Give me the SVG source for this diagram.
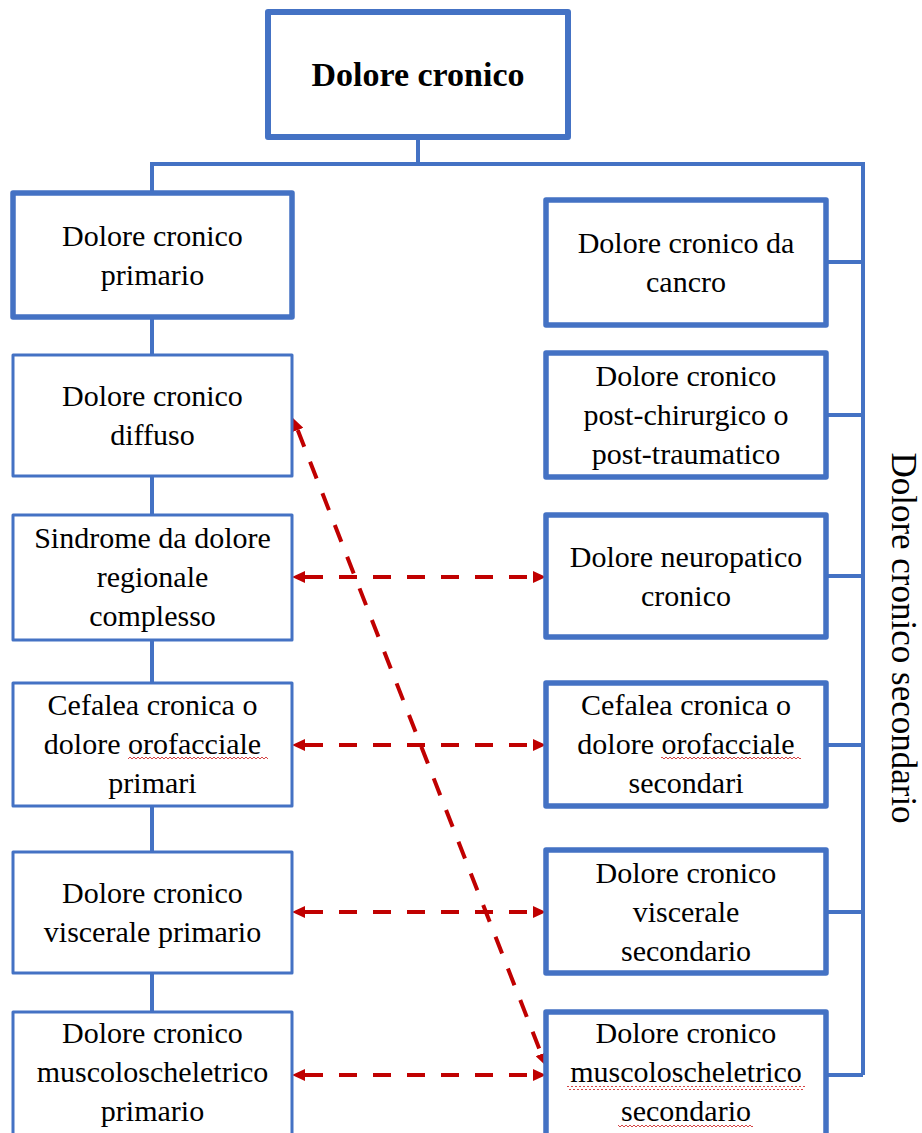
<svg xmlns="http://www.w3.org/2000/svg" width="922" height="1133" viewBox="0 0 922 1133">
<style>
.bg{fill:#ffffff}
.box{fill:#ffffff;stroke:#4472C4;stroke-linejoin:round}
.thick{stroke-width:5.5}
.thin{stroke-width:3}
.conn{fill:none;stroke:#4472C4;stroke-width:4}
.arr{fill:none;stroke:#C00000;stroke-width:4;stroke-dasharray:18 16}
.t{font-family:"Liberation Serif","Times New Roman",serif;font-size:30px;fill:#000;text-anchor:middle}
.title{font-family:"Liberation Serif","Times New Roman",serif;font-size:34px;font-weight:bold;fill:#000;text-anchor:middle}
.side{font-family:"Liberation Serif","Times New Roman",serif;font-size:35px;fill:#000;text-anchor:middle}
.wavy{fill:url(#wave)}
</style>
<defs>
<marker id="ah" markerUnits="userSpaceOnUse" markerWidth="14" markerHeight="12" refX="0" refY="6" orient="auto-start-reverse" viewBox="0 0 14 12">
<path d="M0 0 L13 6 L0 12 Z" fill="#C00000"/>
</marker>
<pattern id="wave" patternUnits="userSpaceOnUse" width="4" height="4" x="0" y="0">
<path d="M0 3 L2 1 L4 3" fill="none" stroke="#D03030" stroke-width="0.9"/>
</pattern>
</defs>
<rect class="bg" x="0" y="0" width="922" height="1133"/>

<g id="connectors">
<path class="conn" d="M418 137 V164 M150 164 H863 V1075 M152 164 V1012"/>
<path class="conn" d="M826 262 H863 M826 415 H863 M826 576 H863 M826 745 H863 M826 912 H863 M826 1075 H863"/>
<line class="arr" x1="305" y1="577" x2="533" y2="577" marker-start="url(#ah)" marker-end="url(#ah)"/>
<line class="arr" x1="305" y1="745" x2="533" y2="745" marker-start="url(#ah)" marker-end="url(#ah)"/>
<line class="arr" x1="305" y1="912" x2="533" y2="912" marker-start="url(#ah)" marker-end="url(#ah)"/>
<line class="arr" x1="305" y1="1075" x2="533" y2="1075" marker-start="url(#ah)" marker-end="url(#ah)"/>
<line class="arr" x1="297.7" y1="430" x2="541.3" y2="1054" marker-start="url(#ah)" marker-end="url(#ah)"/>
</g>

<g id="root">
<rect class="box" x="268" y="12" width="300" height="125" stroke-width="6"/>
<text class="title" x="418" y="86">Dolore cronico</text>
</g>

<g id="primario">
<rect class="box thick" x="13" y="193" width="279" height="124"/>
<text class="t" x="152.5" y="246">Dolore cronico</text>
<text class="t" x="152.5" y="285">primario</text>
</g>

<g id="diffuso">
<rect class="box thin" x="13" y="355" width="279" height="121"/>
<text class="t" x="152.5" y="406">Dolore cronico</text>
<text class="t" x="152.5" y="445">diffuso</text>
</g>

<g id="sindrome">
<rect class="box thin" x="13" y="515" width="279" height="125"/>
<text class="t" x="152.5" y="548">Sindrome da dolore</text>
<text class="t" x="152.5" y="587">regionale</text>
<text class="t" x="152.5" y="626">complesso</text>
</g>

<g id="cefalea-primari">
<rect class="box thin" x="13" y="683" width="279" height="123"/>
<text class="t" x="152.5" y="715">Cefalea cronica o</text>
<text class="t" x="152.5" y="754">dolore orofacciale</text>
<text class="t" x="152.5" y="793">primari</text>
<rect class="wavy" x="128" y="757" width="140" height="4"/>
</g>

<g id="viscerale-primario">
<rect class="box thin" x="13" y="852" width="279" height="121"/>
<text class="t" x="152.5" y="903">Dolore cronico</text>
<text class="t" x="152.5" y="942">viscerale primario</text>
</g>

<g id="muscolo-primario">
<rect class="box thin" x="13" y="1012" width="279" height="130"/>
<text class="t" x="152.5" y="1043">Dolore cronico</text>
<text class="t" x="152.5" y="1082">muscoloscheletrico</text>
<text class="t" x="152.5" y="1121">primario</text>
</g>

<g id="cancro">
<rect class="box thick" x="546" y="200" width="280" height="125"/>
<text class="t" x="686" y="253">Dolore cronico da</text>
<text class="t" x="686" y="292">cancro</text>
</g>

<g id="post-chirurgico">
<rect class="box thick" x="546" y="353" width="280" height="124"/>
<text class="t" x="686" y="386">Dolore cronico</text>
<text class="t" x="686" y="425">post-chirurgico o</text>
<text class="t" x="686" y="464">post-traumatico</text>
</g>

<g id="neuropatico">
<rect class="box thick" x="546" y="515" width="280" height="122"/>
<text class="t" x="686" y="567">Dolore neuropatico</text>
<text class="t" x="686" y="606">cronico</text>
</g>

<g id="cefalea-secondari">
<rect class="box thick" x="546" y="683" width="280" height="123"/>
<text class="t" x="686" y="715">Cefalea cronica o</text>
<text class="t" x="686" y="754">dolore orofacciale</text>
<text class="t" x="686" y="793">secondari</text>
<rect class="wavy" x="661" y="757" width="140" height="4"/>
</g>

<g id="viscerale-secondario">
<rect class="box thick" x="546" y="850" width="280" height="123"/>
<text class="t" x="686" y="883">Dolore cronico</text>
<text class="t" x="686" y="922">viscerale</text>
<text class="t" x="686" y="961">secondario</text>
</g>

<g id="muscolo-secondario">
<rect class="box thick" x="546" y="1012" width="280" height="130"/>
<text class="t" x="686" y="1043">Dolore cronico</text>
<text class="t" x="686" y="1082">muscoloscheletrico</text>
<text class="t" x="686" y="1121">secondario</text>
<rect class="wavy" x="567" y="1086" width="238" height="4"/>
<rect class="wavy" x="618" y="1125" width="135" height="4"/>
</g>

<g id="label-secondario">
<text class="side" transform="translate(892,638) rotate(90)">Dolore cronico secondario</text>
</g>
</svg>
